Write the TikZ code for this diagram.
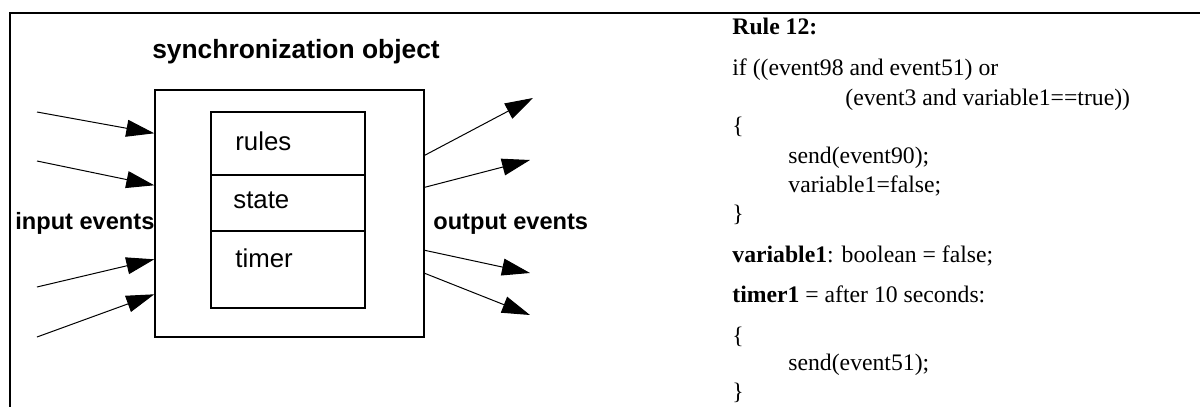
\documentclass[tikz,border=0pt]{standalone}
\usepackage{fontspec}
\setmainfont{Liberation Serif}
\setsansfont{Liberation Sans}
\usetikzlibrary{positioning}
\usetikzlibrary{arrows.meta}
\tikzset{>={Triangle[length=14pt,width=8.5pt]}}

\begin{document}
\begin{tikzpicture}[x=0.5pt,y=-0.5pt]
          \tikzstyle{ttl} = [font=\sffamily\bfseries\fontsize{13.2}{15}\selectfont, inner sep=0pt, anchor=base]
          \tikzstyle{lbl} = [font=\sffamily\bfseries\fontsize{11.8}{14}\selectfont, inner sep=0pt, anchor=base west]
          \tikzstyle{ctxt} = [font=\sffamily\fontsize{12.9}{15}\selectfont, inner sep=0pt, anchor=base west]
          \tikzstyle{code} = [font=\fontsize{11.85}{14}\selectfont, inner sep=0pt, anchor=base west]
          \tikzstyle{obox} = [draw, line width=0.7pt, rectangle, minimum width=134.5pt, minimum height=123.5pt, inner sep=0pt]
          \tikzstyle{cell} = [draw, line width=0.6pt, rectangle, minimum width=77pt, inner sep=0pt, outer sep=0pt]
          \tikzstyle{evt} = [->, line width=0.5pt]

          \useasboundingbox (0,0) rectangle (1200,407);
          \draw[line width=1pt] (10,407) -- (10,13) -- (1200,13);

          % synchronization object
          \node[ttl] (title) at (296,58) {synchronization object};
          \node[obox] (sync) at (289.5,213.5) {};
          \node[cell, minimum height=31.5pt] (rulescell) at (288,143.5) {};
          \node[cell, minimum height=28pt, below=0pt of rulescell] (statecell) {};
          \node[cell, minimum height=38.5pt, below=0pt of statecell] (timercell) {};
          \node[ctxt] (rules) at (235,150) {rules};
          \node[ctxt] (state) at (233,208) {state};
          \node[ctxt] (timer) at (235,267) {timer};

          \node[lbl] (inlbl) at (15,229) {input events};
          \node[lbl] (outlbl) at (433,229) {output events};

          % input events
          \coordinate (in1) at (37,112);
          \coordinate (in2) at (37,161);
          \coordinate (in3) at (37,287);
          \coordinate (in4) at (37,337);
          \draw[evt] (in1) to ([yshift=-22pt]sync.north west);
          \draw[evt] (in2) to ([yshift=-48pt]sync.north west);
          \draw[evt] (in3) to ([yshift=-85pt]sync.north west);
          \draw[evt] (in4) to ([yshift=-102.5pt]sync.north west);

          % output events
          \coordinate (out1) at (533,98);
          \coordinate (out2) at (530,160);
          \coordinate (out3) at (530,273);
          \coordinate (out4) at (530,315);
          \draw[evt] ([yshift=-33pt]sync.north east) to (out1);
          \draw[evt] ([yshift=-49pt]sync.north east) to (out2);
          \draw[evt] ([yshift=-80.5pt]sync.north east) to (out3);
          \draw[evt] ([yshift=-92pt]sync.north east) to (out4);

          % rule text
          \node[code] (rule) at (732,34) {\textbf{Rule 12:}};
          \node[code] (ifln) at (732,75) {if ((event98 and event51) or};
          \node[code] (condln) at (845,105) {(event3 and variable1==true))};
          \node[code] (open1) at (732,133) {\{};
          \node[code] (send1) at (788,163) {send(event90);};
          \node[code] (assign) at (788,192) {variable1=false;};
          \node[code] (close1) at (732,221) {\}};
          \node[code] (vardecl) at (732,262) {\textbf{variable1}: boolean = false;};
          \node[code] (timerdecl) at (732,302) {\textbf{timer1} = after 10 seconds:};
          \node[code] (open2) at (732,343) {\{};
          \node[code] (send2) at (788,370) {send(event51);};
          \node[code] (close2) at (732,399) {\}};
        \end{tikzpicture}
\end{document}
